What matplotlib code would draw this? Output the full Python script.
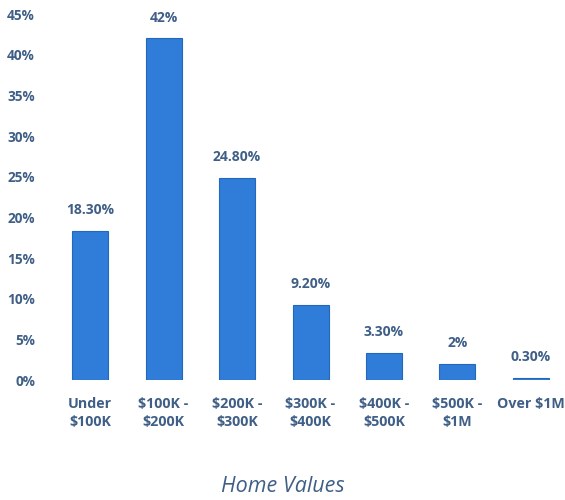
import matplotlib
matplotlib.use("Agg")
import matplotlib.pyplot as plt

categories = ["Under\n$100K", "$100K -\n$200K", "$200K -\n$300K", "$300K -\n$400K",
              "$400K -\n$500K", "$500K -\n$1M", "Over $1M"]
values = [18.3, 42.0, 24.8, 9.2, 3.3, 2.0, 0.3]
value_labels = ["18.30%", "42%", "24.80%", "9.20%", "3.30%", "2%", "0.30%"]
yticks = [0, 5, 10, 15, 20, 25, 30, 35, 40, 45]
ytick_labels = [f"{t}%" for t in yticks]
xlabel = "Home Values"

txt = "#3f5f86"
bar_color = "#2f7dd8"
edge = "#2468bd"

plt.rcParams["font.family"] = ["Open Sans", "DejaVu Sans"]

fig = plt.figure(figsize=(5.65, 5.0), dpi=100)
ax = fig.add_axes([46/565, 120/500, (564-46)/565, 366/500])
x = list(range(len(categories)))
bars = ax.bar(x, values, width=0.49, color=bar_color, edgecolor=edge, linewidth=0.8)
ax.set_xlim(-0.6, 6.45)
ax.set_ylim(0, 45)
ax.set_yticks(yticks)
ax.set_yticklabels(ytick_labels)
ax.set_xticks(x)
ax.set_xticklabels(categories, linespacing=1.35)
for s in ax.spines.values():
    s.set_visible(False)
ax.tick_params(length=0, colors=txt, labelsize=9.8)
ax.tick_params(axis="y", pad=8)
ax.tick_params(axis="x", pad=12, labelsize=10.3)
for lab in ax.get_xticklabels() + ax.get_yticklabels():
    lab.set_fontweight("bold")
    lab.set_color(txt)
for xi, v, lab in zip(x, values, value_labels):
    ax.annotate(lab, (xi, v), xytext=(0, 10), textcoords="offset points",
                ha="center", va="bottom", fontsize=10, fontweight="bold", color=txt)
fig.text(0.5, 1 - 487/500, xlabel, ha="center", va="center", fontsize=15.5,
         style="italic", color=txt)
fig.savefig("out.png", dpi=100, facecolor="white")
